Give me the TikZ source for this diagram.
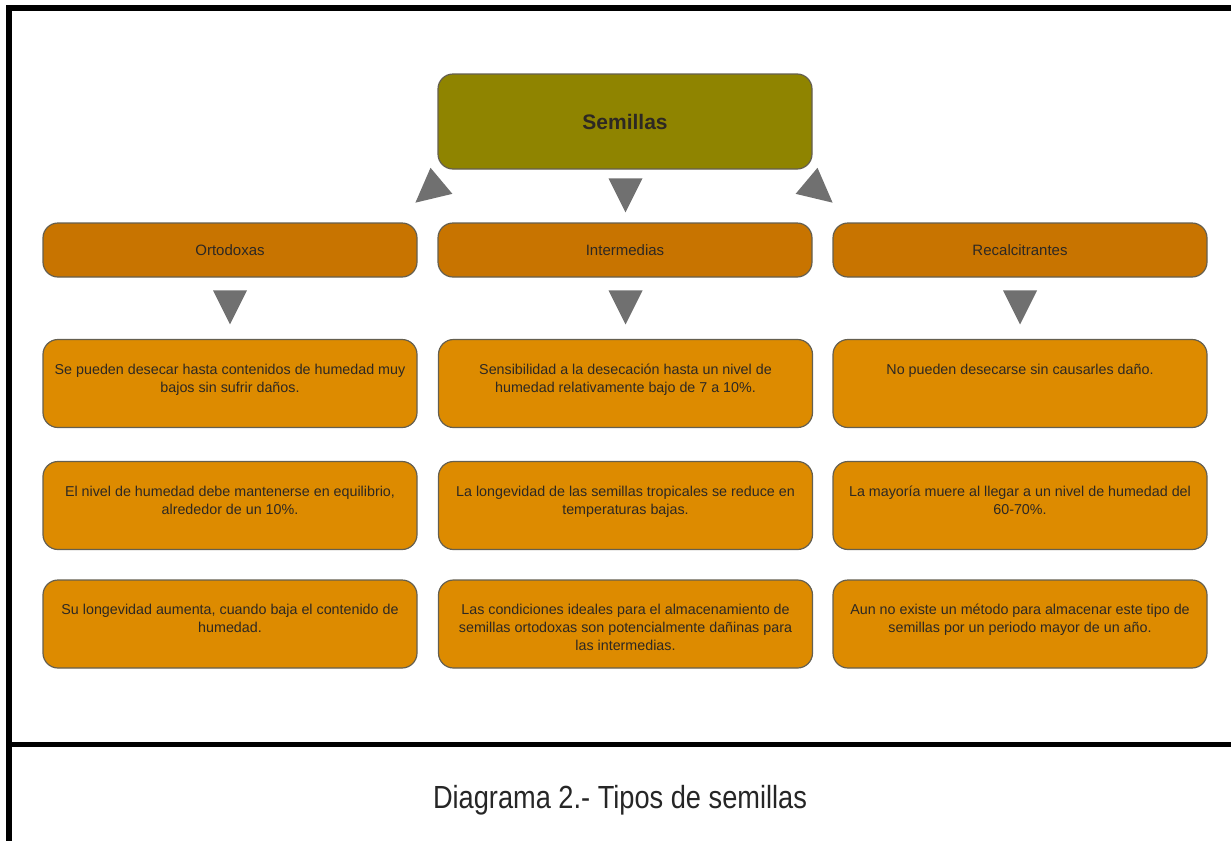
\documentclass[tikz,border=0pt]{standalone}
\usepackage{fontspec}
\setmainfont{Liberation Sans}
\newfontfamily\capfont[FakeStretch=0.85]{Liberation Sans}
\usetikzlibrary{shapes.geometric}
\definecolor{semfill}{RGB}{143,132,0}
\definecolor{kindfill}{RGB}{200,116,0}
\definecolor{factfill}{RGB}{221,139,0}
\definecolor{edge}{RGB}{100,95,80}
\definecolor{trifill}{RGB}{112,112,112}
\definecolor{ink}{RGB}{45,40,35}
\newcommand{\facttext}[1]{\parbox[t][76pt][t]{360pt}{\vspace*{16pt}\centering\strut #1}}

\begin{document}
\begin{tikzpicture}[x=1pt,y=-1pt]
    \tikzset{box/.style={draw=edge,line width=1.2pt,rounded corners=15pt,minimum width=374pt,inner sep=0pt,text=ink},
    kind/.style={box,fill=kindfill,minimum height=54pt,font=\fontsize{15}{18}\selectfont},
    fact/.style={box,fill=factfill,minimum height=88pt,font=\fontsize{14.3}{18}\selectfont},
    tri/.style={isosceles triangle,isosceles triangle stretches,fill=trifill,minimum width=34pt,minimum height=34pt,inner sep=0pt,anchor=apex}}
    \useasboundingbox (0,0) rectangle (1231,841);
    % frame
    \draw[line width=5.5pt] (1231,8) -- (9,8) -- (9,841);
    \draw[line width=5.5pt] (9,744.5) -- (1231,744.5);
    % top and kinds
    \node[box,fill=semfill,minimum height=95pt,font=\fontsize{21}{24}\selectfont\bfseries] (Sem) at (625,121.5) {Semillas};
    \node[kind] (Ort) at (230,250) {Ortodoxas};
    \node[kind] (Int) at (625,250) {Intermedias};
    \node[kind] (Rec) at (1020,250) {Recalcitrantes};
    \node[tri,rotate=220] (tO) at (415,203) {};
    \node[tri,rotate=270] (tI) at (625.5,213) {};
    \node[tri,rotate=320] (tR) at (833,203) {};
    \node[tri,rotate=270] (dO) at (230,325) {};
    \node[tri,rotate=270] (dI) at (625.5,325) {};
    \node[tri,rotate=270] (dR) at (1020,325) {};
    % facts
    \node[fact] (O1) at (230,383.5) {\facttext{Se pueden desecar hasta contenidos de humedad muy\\bajos sin sufrir daños.}};
    \node[fact] (O2) at (230,505.5) {\facttext{El nivel de humedad debe mantenerse en equilibrio,\\alrededor de un 10\%.}};
    \node[fact] (O3) at (230,624) {\facttext{Su longevidad aumenta, cuando baja el contenido de\\humedad.}};
    \node[fact] (I1) at (625.5,383.5) {\facttext{Sensibilidad a la desecación hasta un nivel de\\humedad relativamente bajo de 7 a 10\%.}};
    \node[fact] (I2) at (625.5,505.5) {\facttext{La longevidad de las semillas tropicales se reduce en\\temperaturas bajas.}};
    \node[fact] (I3) at (625.5,624) {\facttext{Las condiciones ideales para el almacenamiento de\\semillas ortodoxas son potencialmente dañinas para\\las intermedias.}};
    \node[fact] (R1) at (1020,383.5) {\facttext{No pueden desecarse sin causarles daño.}};
    \node[fact] (R2) at (1020,505.5) {\facttext{La mayoría muere al llegar a un nivel de humedad del\\60-70\%.}};
    \node[fact] (R3) at (1020,624) {\facttext{Aun no existe un método para almacenar este tipo de\\semillas por un periodo mayor de un año.}};
    % caption
    \node[font=\capfont\fontsize{32}{36}\selectfont,anchor=base,text=black!85] (cap) at (620,808) {Diagrama 2.- Tipos de semillas};
\end{tikzpicture}
\end{document}
